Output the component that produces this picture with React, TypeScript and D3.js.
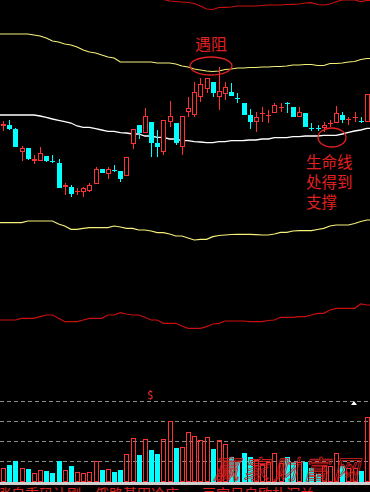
import React from "react";
import * as d3 from "d3";

// ---- data (price units are arbitrary points; volume in arbitrary lots) ----
const opens = [204,205,201,178,182,169,169,174,169,167,143,143,138,138,139,146,161,156,160,159,154,186,205,197,208,187,178,208,207,183,218,215,233,241,248,233,236,238,232,227,215,208,216,214,217,222,227,223,213,217,202,202,202,206,207,215,210,212,209,208];
const closes = [206,201,183,182,171,171,177,169,168,142,145,136,139,142,145,161,157,161,159,151,173,201,197,214,187,183,210,214,187,214,222,238,246,252,237,239,243,234,231,215,208,213,217,215,225,223,226,213,218,203,201,201,205,207,217,210,211,213,208,236];
const highs = [209,210,202,184,182,175,183,174,175,171,147,145,142,143,147,163,161,163,165,159,173,201,205,222,208,200,210,229,207,214,233,248,252,252,248,263,248,247,237,227,221,218,223,220,227,227,228,223,223,217,207,205,208,210,224,218,213,218,213,236];
const lows = [199,200,183,169,170,166,169,168,167,142,135,133,135,133,138,146,157,151,158,148,154,181,191,197,173,173,175,203,185,175,213,213,228,237,233,220,230,234,227,215,201,198,208,207,217,218,217,213,213,203,199,199,198,203,207,207,205,208,207,208];
const volumes = [14,17,21,14,13,9,12,11,9,21,12,16,10,9,10,21,12,13,10,12,28,44,27,43,32,28,43,61,34,35,50,46,42,45,33,42,38,25,20,29,25,22,18,20,29,19,25,20,20,20,14,8,16,16,29,16,14,14,11,65];

const bandTop = [338,338,338,338,338,337,337,336,336,336,335,335,335,334,334,333,333,332,331,330.8,331,332,332,332,332,331,330.5,329,328.5,328,327.5,326.5,324,321,320.5,322.5,322.7,323,324,324,324,324,324.5,325,325,325,325.5,325.7,326,327,327.3,325.5,325,326,328.3,330,330,330,328.3,329.5];
const upperLine = [296,296,296,296,296,295,294,292,289,288,286,285,283,280,278,277,275,273,272,268,268,268,268,268,268,267,267,267,266,264,263,261,260,259,258.5,259,260.5,261,262,262,262.5,262.5,263,263,263.5,263.5,264,265,265,265.5,265.5,264.5,264.5,266.5,266.5,267,268,268.5,270.5,271.5];
const midLine = [215,215,215,215,215,215,214,212.7,211,209.7,208.3,207,204,202.7,202.7,201.3,200,198.7,198.7,197.3,197,196,196,194,194,192.7,192.7,191,191,189.3,189.3,188.3,188,187.3,187.3,188.3,188.3,189.3,189.3,189.5,190,190,191,191,192.3,192.3,192.3,193.3,193.3,194,194,194,194.7,194.7,194.7,196,197.7,199,200,201.7];
const lowerLine = [107.3,107.3,107.3,107.3,109,109,109,109,109,106,104,100.7,100.7,101.7,102.3,102.3,102.3,102.3,104,103,101.7,101.7,100,100,99,97.3,97.3,96,94,94,92,90,90.7,90.7,93.3,94.5,95,95.5,95.7,95.7,95.7,95.3,95,95,96,97.7,97.7,99,99.3,99.3,99.3,100.5,101.7,104,105,105,105,106.5,108.5,110];
const bandBottom = [10,10,10,11.7,11.7,11.7,13.3,15,15,11.7,8.3,8.3,8.3,10,11.7,11.7,11.7,15,15,17.3,16,15,15,12.7,10,10,6.7,6.7,6.7,4,1.7,1.7,1.7,3.3,6,6.7,9,9,9,9,8.3,8.3,8.3,9.5,10,12.7,12.7,12.7,13.3,13.3,15,16.7,16.7,20,21.7,21.7,21.7,21.7,26,25];

const volTicks = [20, 40, 60, 80];

const W = 370;
const H = 492;
const UP = "#ff3232";
const DOWN = "#00ffff";
const NOTE = "#e02020";
const FONT = "'Noto Sans CJK SC', 'Noto Sans', sans-serif";

export default function App() {
  const n = opens.length;
  const x = d3.scaleBand<number>().domain(d3.range(n)).range([0, W]);
  const bw = x.bandwidth();
  const xl = d3.scaleLinear().domain([-0.5, n - 0.5]).range([0, W]);
  const y = d3.scaleLinear().domain([0, 330]).range([330, 0]);
  const yv = d3.scaleLinear().domain([0, 80]).range([482, 402]);

  const mkLine = (vals: number[]) => {
    const pts: [number, number][] = [[-0.5, vals[0]], ...vals.map((v, i) => [i, v] as [number, number]), [n - 0.5, vals[n - 1]]];
    return d3.line<[number, number]>().x((d) => xl(d[0])).y((d) => y(d[1]))(pts) || "";
  };

  const cx = (i: number) => Math.round((x(i) as number) + bw / 2);

  return (
    <svg width={W} height={H} style={{ position: "absolute", left: 0, top: 0, display: "block", background: "#000" }}>
      <rect x={0} y={0} width={W} height={H} fill="#000" />
      {/* indicator lines */}
      <path d={mkLine(bandTop)} fill="none" stroke="#c81010" strokeWidth={1.2} />
      <path d={mkLine(upperLine)} fill="none" stroke="#f4f07a" strokeWidth={1.2} />
      <path d={mkLine(midLine)} fill="none" stroke="#ffffff" strokeWidth={1.3} />
      <path d={mkLine(lowerLine)} fill="none" stroke="#f4f07a" strokeWidth={1.2} />
      <path d={mkLine(bandBottom)} fill="none" stroke="#c81010" strokeWidth={1.2} />

      {/* candles */}
      <g shapeRendering="crispEdges">
        {opens.map((o, i) => {
          const c = closes[i];
          const up = c >= o;
          const col = up ? UP : DOWN;
          const c0 = cx(i);
          const top = Math.round(y(Math.max(o, c)));
          const bot = Math.round(y(Math.min(o, c)));
          const hy = Math.round(y(highs[i]));
          const ly = Math.round(y(lows[i]));
          if (bot - top <= 1) {
            return (
              <g key={i}>
                <line x1={c0 + 0.5} x2={c0 + 0.5} y1={hy} y2={ly} stroke={col} strokeWidth={1} />
                <line x1={c0 - 2} x2={c0 + 3} y1={top + 0.5} y2={top + 0.5} stroke={col} strokeWidth={1} />
              </g>
            );
          }
          if (up) {
            return (
              <g key={i}>
                <line x1={c0 + 0.5} x2={c0 + 0.5} y1={hy} y2={top} stroke={col} />
                <line x1={c0 + 0.5} x2={c0 + 0.5} y1={bot} y2={ly} stroke={col} />
                <rect x={c0 - 1.5} y={top + 0.5} width={4} height={bot - top - 1} fill="#000" stroke={col} strokeWidth={1} />
              </g>
            );
          }
          return (
            <g key={i}>
              <line x1={c0 + 0.5} x2={c0 + 0.5} y1={hy} y2={ly} stroke={col} />
              <rect x={c0 - 2} y={top} width={5} height={bot - top} fill={col} />
            </g>
          );
        })}
      </g>

      {/* annotations */}
      <text x={211} y={50} fill={NOTE} fontSize={16} fontFamily={FONT} textAnchor="middle">遇阻</text>
      <ellipse cx={211} cy={66} rx={21} ry={9} fill="none" stroke={NOTE} strokeWidth={1.3} />
      <ellipse cx={332} cy={137.5} rx={14} ry={9.5} fill="none" stroke={NOTE} strokeWidth={1.3} />
      <text x={306} y={168} fill={NOTE} fontSize={15.5} fontFamily={FONT}>生命线</text>
      <text x={306} y={188} fill={NOTE} fontSize={15.5} fontFamily={FONT}>处得到</text>
      <text x={306} y={208} fill={NOTE} fontSize={15.5} fontFamily={FONT}>支撑</text>

      {/* volume grid */}
      {volTicks.map((t) => (
        <line key={t} x1={0} x2={W} y1={Math.round(yv(t)) - 0.5} y2={Math.round(yv(t)) - 0.5} stroke="#8a8a8a" strokeWidth={1} strokeDasharray="4,3" />
      ))}
      <text x={150} y={399} fill={UP} fontSize={11} fontFamily={FONT} textAnchor="middle">$</text>
      <path d="M351,405 L354,401 L357,405 Z" fill="#ffffff" />

      {/* volume bars */}
      <g shapeRendering="crispEdges">
        {volumes.map((v, i) => {
          const up = closes[i] >= opens[i];
          const c0 = cx(i);
          const top = Math.round(yv(v));
          const base = Math.round(yv(0));
          return up ? (
            <rect key={i} x={c0 - 1.5} y={top + 0.5} width={4} height={base - top - 1} fill="none" stroke={UP} strokeWidth={1} />
          ) : (
            <rect key={i} x={c0 - 2} y={top} width={5} height={base - top} fill={DOWN} />
          );
        })}
      </g>

      {/* watermark */}
      <text x={213} y={479} fill="none" stroke="#d02020" strokeWidth={0.8} fontSize={26} fontStyle="italic" letterSpacing={4} fontFamily={FONT}>赢家财富网</text>

      {/* bottom bar and cropped caption */}
      <rect x={0} y={482} width={W} height={3} fill="#cfcfcf" />
      <rect x={0} y={485} width={W} height={7} fill="#000" />
      <text x={-3} y={499} fill={NOTE} fontSize={14} fontFamily={FONT}>涨自重码让刚，俄路基田冷店</text>
      <text x={202} y={499} fill={NOTE} fontSize={14} fontFamily={FONT}>豆宫日自欧朴沉兰</text>
    </svg>
  );
}
